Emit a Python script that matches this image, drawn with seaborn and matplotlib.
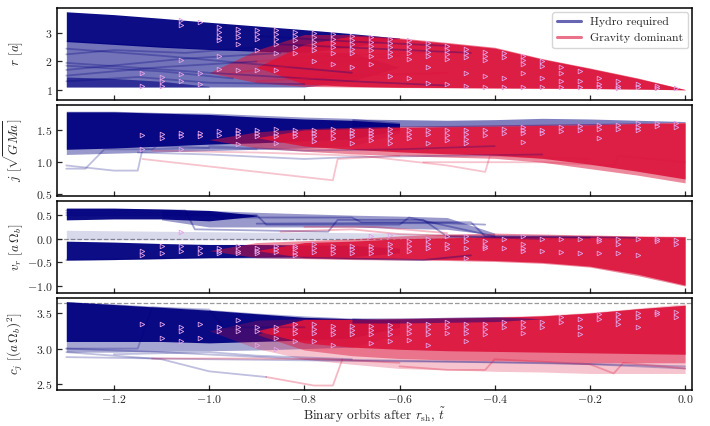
import numpy as np
import pandas as pd
import matplotlib
matplotlib.use("Agg")
import matplotlib.pyplot as plt
from matplotlib.lines import Line2D
import seaborn as sns

nan = np.nan

# ---- data ----
# time nodes for the envelopes of the dense bundles of tracks
T = [-1.3, -1.2, -1.1, -1.0, -0.9, -0.8, -0.7, -0.6, -0.5, -0.4, -0.3, -0.2, -0.1, 0.0]

# panel 1: r [a]
r_blue_core_lo = [2.70, 2.60, 2.50, 2.42, 2.36, 2.32, 2.50, 2.80, nan, nan, nan, nan, nan, nan]
r_blue_core_hi = [3.75, 3.65, 3.52, 3.38, 3.25, 3.12, 2.98, 2.82, nan, nan, nan, nan, nan, nan]
r_blue_wide_lo = [1.10, 1.10, 1.10, 1.10, 1.10, 1.10, 1.30, 1.80, nan, nan, nan, nan, nan, nan]
r_blue_wide_hi = [2.75, 2.65, 2.55, 2.45, 2.40, 2.35, 2.30, 1.80, nan, nan, nan, nan, nan, nan]
r_blue_low_lo = [1.10, 1.10, 1.10, 1.10, nan, nan, nan, nan, nan, nan, nan, nan, nan, nan]
r_blue_low_hi = [1.45, 1.40, 1.30, 1.12, nan, nan, nan, nan, nan, nan, nan, nan, nan, nan]
r_red_wide_lo = [nan, nan, nan, 1.60, 1.25, 1.12, 1.10, 1.08, 1.07, 1.06, 1.05, 1.04, 1.02, 1.00]
r_red_wide_hi = [nan, nan, nan, 1.60, 2.40, 2.95, 2.95, 2.83, 2.67, 2.50, 2.10, 1.77, 1.42, 1.01]
r_red_core_lo = [nan, nan, nan, nan, 1.80, 1.20, 1.12, 1.09, 1.08, 1.07, 1.06, 1.05, 1.03, 1.00]
r_red_core_hi = [nan, nan, nan, nan, 1.80, 2.60, 2.90, 2.80, 2.64, 2.47, 2.08, 1.75, 1.40, 1.01]

# panel 2: j [sqrt(GMa)]
j_blue_core_lo = [1.20, 1.22, 1.25, 1.28, 1.30, 1.33, 1.36, 1.50, nan, nan, nan, nan, nan, nan]
j_blue_core_hi = [1.78, 1.78, 1.76, 1.74, 1.70, 1.67, 1.65, 1.60, nan, nan, nan, nan, nan, nan]
j_blue_wide_lo = [1.12, 1.14, 1.16, 1.18, 1.20, 1.22, 1.25, 1.45, nan, nan, nan, nan, nan, nan]
j_blue_wide_hi = [1.79, 1.79, 1.77, 1.76, 1.73, 1.70, 1.68, 1.62, nan, nan, nan, nan, nan, nan]
j_blue_top_lo = [nan, nan, nan, nan, nan, nan, 1.56, 1.55, 1.55, 1.56, 1.57, 1.58, 1.60, 1.62]
j_blue_top_hi = [nan, nan, nan, nan, nan, nan, 1.67, 1.66, 1.65, 1.66, 1.68, 1.67, 1.65, 1.63]
j_red_wide_lo = [nan, nan, nan, 1.35, 1.22, 1.17, 1.13, 1.10, 1.08, 1.06, 1.00, 0.90, 0.80, 0.68]
j_red_wide_hi = [nan, nan, nan, 1.35, 1.47, 1.52, 1.54, 1.56, 1.57, 1.58, 1.59, 1.60, 1.61, 1.62]
j_red_core_lo = [nan, nan, nan, nan, 1.38, 1.25, 1.20, 1.16, 1.13, 1.11, 1.06, 0.97, 0.86, 0.74]
j_red_core_hi = [nan, nan, nan, nan, 1.38, 1.50, 1.52, 1.54, 1.55, 1.56, 1.57, 1.58, 1.60, 1.61]

# panel 3: v_r [a Omega_b]
v_blue_up_lo = [0.40, 0.42, 0.42, 0.38, 0.48, nan, nan, nan, nan, nan, nan, nan, nan, nan]
v_blue_up_hi = [0.65, 0.65, 0.63, 0.60, 0.50, nan, nan, nan, nan, nan, nan, nan, nan, nan]
v_blue_upw_lo = [nan, nan, 0.40, 0.25, 0.25, 0.25, 0.25, 0.22, 0.20, 0.08, nan, nan, nan, nan]
v_blue_upw_hi = [nan, nan, 0.60, 0.60, 0.56, 0.53, 0.50, 0.48, 0.45, 0.12, nan, nan, nan, nan]
v_blue_mid_lo = [-0.02, -0.02, -0.02, -0.02, -0.02, -0.02, -0.01, 0.00, 0.00, 0.02, 0.04, nan, nan, nan]
v_blue_mid_hi = [0.18, 0.17, 0.16, 0.15, 0.14, 0.14, 0.13, 0.12, 0.10, 0.08, 0.04, nan, nan, nan]
v_blue_core_lo = [-0.45, -0.44, -0.42, -0.40, -0.39, -0.38, -0.38, -0.30, nan, nan, nan, nan, nan, nan]
v_blue_core_hi = [-0.05, -0.07, -0.10, -0.12, -0.12, -0.13, -0.14, -0.20, nan, nan, nan, nan, nan, nan]
v_red_wide_lo = [nan, nan, nan, -0.25, -0.40, -0.42, -0.44, -0.45, -0.46, -0.48, -0.52, -0.60, -0.78, -1.00]
v_red_wide_hi = [nan, nan, nan, -0.25, -0.08, -0.04, 0.00, 0.06, 0.10, 0.12, 0.10, 0.08, 0.06, 0.05]
v_red_core_lo = [nan, nan, nan, nan, -0.25, -0.40, -0.42, -0.43, -0.44, -0.46, -0.50, -0.58, -0.75, -0.98]
v_red_core_hi = [nan, nan, nan, nan, -0.25, -0.08, -0.05, 0.00, 0.02, 0.05, 0.06, 0.06, 0.05, 0.04]

# panel 4: c_j [(a Omega_b)^2]
c_blue_core_lo = [3.10, 3.10, 3.10, 3.08, 3.10, 3.12, 3.15, 3.30, nan, nan, nan, nan, nan, nan]
c_blue_core_hi = [3.66, 3.62, 3.58, 3.54, 3.49, 3.44, 3.42, 3.40, nan, nan, nan, nan, nan, nan]
c_blue_wide_lo = [2.95, 2.95, 2.96, 2.97, 2.98, 3.00, 3.02, 3.20, nan, nan, nan, nan, nan, nan]
c_blue_wide_hi = [3.66, 3.63, 3.59, 3.55, 3.50, 3.46, 3.43, 3.40, nan, nan, nan, nan, nan, nan]
c_blue_top_lo = [nan, nan, nan, nan, nan, nan, 3.36, 3.36, 3.37, 3.38, 3.42, nan, nan, nan]
c_blue_top_hi = [nan, nan, nan, nan, nan, nan, 3.43, 3.43, 3.44, 3.45, 3.42, nan, nan, nan]
c_red_wide_lo = [nan, nan, nan, 3.25, 3.00, 2.85, 2.78, 2.72, 2.70, 2.68, 2.67, 2.65, 2.65, 2.65]
c_red_wide_hi = [nan, nan, nan, 3.25, 3.40, 3.42, 3.42, 3.43, 3.44, 3.45, 3.47, 3.51, 3.57, 3.63]
c_red_mid_lo = [nan, nan, nan, nan, 3.20, 2.98, 2.90, 2.86, 2.84, 2.83, 2.82, 2.80, 2.80, 2.80]
c_red_mid_hi = [nan, nan, nan, nan, 3.20, 3.41, 3.41, 3.42, 3.43, 3.44, 3.46, 3.50, 3.56, 3.61]
c_red_core_lo = [nan, nan, nan, nan, 3.25, 3.08, 3.02, 2.99, 2.97, 2.96, 2.95, 2.94, 2.93, 2.92]
c_red_core_hi = [nan, nan, nan, nan, 3.25, 3.41, 3.41, 3.42, 3.43, 3.44, 3.46, 3.50, 3.56, 3.61]

# single stray tracks: (t values, y values)
r_blue_tracks = [
    ([-1.3, -1.1, -0.9, -0.7], [2.45, 2.2, 1.9, 1.6]),
    ([-1.3, -1.05, -0.85], [1.7, 2.1, 2.3]),
    ([-1.3, -1.0, -0.7, -0.5], [1.95, 1.6, 1.3, 1.15]),
    ([-1.3, -1.1, -0.9], [1.5, 1.8, 2.0]),
    ([-1.3, -1.15, -1.0, -0.8], [1.3, 1.45, 1.25, 1.2]),
    ([-1.3, -1.2, -1.05, -0.9], [2.25, 2.4, 2.3, 2.5]),
    ([-1.3, -1.1, -0.95], [1.85, 1.65, 1.4]),
    ([-0.9, -0.7, -0.5], [2.9, 2.7, 2.55]),
    ([-0.85, -0.65, -0.45], [2.6, 2.45, 2.3]),
]
r_red_tracks = [
    ([-0.95, -0.8, -0.6], [1.6, 1.9, 2.2]),
    ([-0.9, -0.7, -0.5], [1.3, 1.5, 1.6]),
    ([-0.9, -0.75, -0.55], [2.0, 2.2, 2.3]),
]
j_blue_tracks = [
    ([-1.3, -1.26, -1.22, -1.12, -1.11, -0.9], [0.9, 0.9, 1.2, 1.2, 1.25, 1.2]),
    ([-1.3, -1.2, -1.15, -1.14, -1.0], [0.95, 0.87, 0.87, 1.2, 1.22]),
    ([-1.15, -1.0, -0.8, -0.7, -0.5, -0.3], [1.15, 1.12, 1.05, 1.08, 1.1, 1.12]),
    ([-1.0, -0.8, -0.6, -0.4], [1.25, 1.18, 1.2, 1.25]),
]
j_red_tracks = [
    ([-1.14, -0.74, -0.73, -0.6], [1.05, 0.72, 1.05, 1.1]),
    ([-1.12, -0.9, -0.68, -0.5, -0.42, -0.41, -0.2], [1.18, 1.15, 1.1, 0.95, 0.85, 1.1, 1.05]),
    ([-0.55, -0.3, -0.15, -0.14, 0.0], [1.0, 1.0, 0.95, 1.1, 1.0]),
]
v_blue_tracks = [
    ([-1.3, -1.0, -0.98, -0.7, -0.68, -0.45, -0.42, -0.2], [0.55, 0.55, 0.45, 0.45, 0.35, 0.35, 0.05, 0.02]),
    ([-1.3, -1.05, -1.03, -0.75, -0.73, -0.55, -0.5, -0.3], [0.6, 0.6, 0.2, 0.15, 0.4, 0.4, 0.05, 0.0]),
    ([-1.3, -0.9, -0.88, -0.6, -0.58, -0.4], [0.5, 0.5, 0.3, 0.3, 0.45, 0.05]),
    ([-0.9, -0.7, -0.5, -0.42], [0.32, 0.33, 0.33, 0.3]),
    ([-1.3, -1.0, -0.8, -0.55, -0.45], [-0.45, -0.4, -0.4, -0.45, -0.35]),
    ([-0.5, -0.3, -0.1], [0.05, 0.05, 0.02]),
]
v_red_tracks = [
    ([-0.85, -0.7, -0.6, -0.45], [0.15, 0.2, 0.1, 0.05]),
    ([-0.8, -0.65, -0.5], [0.25, 0.25, 0.12]),
]
c_blue_tracks = [
    ([-1.3, -1.1, -1.0, -0.88], [2.95, 2.85, 2.68, 2.6]),
    ([-1.3, -1.0, -0.6, -0.3, 0.0], [2.88, 2.85, 2.82, 2.8, 2.75]),
    ([-1.3, -1.1, -0.8, -0.5, -0.2, 0.0], [3.0, 2.95, 2.85, 2.82, 2.78, 2.72]),
    ([-1.3, -1.15, -1.12, -1.0, -0.97, -0.8], [3.0, 3.0, 3.58, 3.55, 3.3, 3.3]),
    ([-1.2, -1.0, -0.9, -0.7], [2.92, 2.95, 2.9, 2.85]),
]
c_red_tracks = [
    ([-0.88, -0.78, -0.74, -0.72], [2.6, 2.48, 2.48, 2.85]),
    ([-1.12, -0.9, -0.75, -0.6], [2.86, 2.86, 2.85, 2.8]),
    ([-0.6, -0.5, -0.42, -0.4, -0.2, -0.15, -0.13, 0.0], [2.75, 2.7, 2.7, 2.85, 2.78, 2.65, 2.8, 2.72]),
]

# times where tracks switch from hydro to gravity (triangle markers)
t_switch = [-1.14, -1.10, -1.06, -1.02, -0.98, -0.94, -0.90, -0.86, -0.82, -0.78,
            -0.74, -0.70, -0.66, -0.62, -0.58, -0.54, -0.50, -0.46, -0.42, -0.38,
            -0.34, -0.30, -0.26, -0.22, -0.18, -0.14, -0.10, -0.06, -0.02]
r_switch = [[1.12, 1.6], [1.3, 1.45, 1.12], [3.45, 3.3, 2.05, 1.55, 1.3], [3.4, 1.6, 1.2],
            [3.2, 3.05, 2.85, 2.75, 2.2, 1.75], [3.15, 3.0, 2.85, 2.6, 1.7], [3.1, 2.95, 2.8, 2.4, 1.7],
            [3.1, 2.95, 2.8, 2.6, 2.3, 1.7], [3.05, 2.9, 2.75, 2.5, 2.3], [3.0, 2.85, 2.7, 2.55, 2.4, 2.0],
            [2.95, 2.8, 2.65, 2.5, 2.3, 1.9], [2.9, 2.75, 2.6, 2.45, 2.3, 1.8], [2.85, 2.7, 2.55, 2.4, 2.2, 1.9],
            [2.8, 2.65, 2.5, 2.35, 2.2, 1.5], [2.75, 2.6, 2.45, 2.3, 2.1, 1.4], [2.65, 2.5, 2.35, 2.2, 1.8, 1.25],
            [2.55, 2.4, 2.25, 2.1, 1.2], [2.45, 2.3, 2.15, 1.6, 1.15], [2.35, 2.2, 2.05, 1.5, 1.1],
            [2.3, 2.15, 1.4, 1.1], [2.2, 2.05, 1.9, 1.6, 1.1], [2.0, 1.85, 1.4, 1.1], [1.8, 1.6, 1.3, 1.1],
            [1.65, 1.3, 1.1], [1.4, 1.2, 1.1], [1.3, 1.15, 1.08], [1.2, 1.1], [1.12, 1.08], [1.05]]
j_switch = [[1.42, 1.2], [1.43, 1.38], [1.45, 1.4, 1.2], [1.45, 1.4], [1.48, 1.42],
            [1.5, 1.45, 1.4, 1.28], [1.5, 1.45, 1.4], [1.52, 1.46, 1.4, 1.3], [1.5, 1.45, 1.4],
            [1.5, 1.45, 1.4, 1.33], [1.52, 1.45, 1.38], [1.5, 1.45, 1.4, 1.3], [1.5, 1.45, 1.4, 1.35],
            [1.52, 1.45, 1.38, 1.3], [1.5, 1.44, 1.38], [1.5, 1.44, 1.3], [1.5, 1.42, 1.35],
            [1.5, 1.44, 1.36, 1.3], [1.5, 1.42], [1.52, 1.46], [1.55, 1.5, 1.45, 1.32], [1.5, 1.46],
            [1.55, 1.48], [1.56, 1.5], [1.57, 1.52, 1.38], [1.58, 1.52], [1.6, 1.55, 1.5],
            [1.6, 1.56], [1.6, 1.55]]
v_switch = [[-0.25, -0.35], [-0.15, -0.3], [0.15, -0.15, -0.25], [-0.2, -0.3], [-0.2, -0.25, -0.3],
            [-0.15, -0.25, -0.3], [-0.2, -0.25, -0.3], [-0.15, -0.22, -0.28], [-0.15, -0.2, -0.28, -0.35],
            [-0.1, -0.2, -0.28], [-0.15, -0.22, -0.3], [-0.15, -0.22, -0.3], [0.05, -0.15, -0.22, -0.3],
            [0.08, -0.1, -0.2, -0.3], [-0.05, -0.15, -0.25], [0.0, -0.1, -0.2], [0.05, -0.1, -0.2],
            [0.05, -0.05, -0.2, -0.4], [-0.05, -0.15, -0.2], [0.0, -0.2], [0.05, -0.1, -0.2, -0.25],
            [0.0, -0.25], [0.0, -0.28], [0.0, -0.3], [0.0, -0.05, -0.3], [0.0, -0.1, -0.3],
            [0.0, -0.35], [0.0, -0.05], [-0.02, -0.1]]
c_switch = [[3.35], [3.35, 3.15], [3.3, 3.25, 3.1], [3.35, 3.15], [3.3, 3.25], [3.4, 3.3, 3.25],
            [3.3, 3.25, 3.05], [3.3, 3.25, 3.15, 3.0], [3.35, 3.28, 3.22, 3.1], [3.35, 3.28, 3.22, 3.1],
            [3.32, 3.26, 3.2, 3.05], [3.32, 3.26, 3.2], [3.32, 3.26, 3.2, 3.08], [3.33, 3.27, 3.2, 3.1],
            [3.35, 3.28, 3.22, 3.12], [3.35, 3.28, 3.2, 3.05], [3.38, 3.3, 3.22], [3.35, 3.28, 3.22, 3.1],
            [3.35, 3.28, 3.2], [3.38, 3.3], [3.38, 3.3, 3.22], [3.38, 3.3], [3.45, 3.38],
            [3.42, 3.3, 3.2], [3.48, 3.42], [3.48, 3.42, 3.35], [3.5, 3.45, 3.3], [3.52, 3.48],
            [3.52, 3.45]]

ylabels = [r"$r$ [$a$]", r"$j$ [$\sqrt{GMa}$]", r"$v_r$ [$a\,\Omega_b$]", r"$c_j$ [$(a\,\Omega_b)^2$]"]
ylims = [(0.65, 3.88), (0.47, 1.89), (-1.15, 0.79), (2.42, 3.71)]
yticks = [[1, 2, 3], [0.5, 1.0, 1.5], [-1.0, -0.5, 0.0, 0.5], [2.5, 3.0, 3.5]]
xticks = [-1.2, -1.0, -0.8, -0.6, -0.4, -0.2, 0.0]

BLUE = "#000080"
RED = "#dc143c"
MARK = "#e2a2e6"


def band(ax, lo, hi, color, alpha):
    lo = np.array(lo, dtype=float)
    hi = np.array(hi, dtype=float)
    ok = ~np.isnan(lo)
    ax.fill_between(np.array(T), lo, hi, where=ok, color=color, alpha=alpha, lw=0)


def tracks(ax, trs, color, alpha=0.25):
    for t, y in trs:
        sns.lineplot(x=t, y=y, ax=ax, color=color, alpha=alpha, lw=1.3,
                     sort=False, estimator=None)


def switches(ax, cols):
    df = pd.DataFrame([(t, y) for t, ys in zip(t_switch, cols) for y in ys], columns=["t", "y"])
    ax.plot(df["t"], df["y"], ls="none", marker=">", ms=3.3, mfc="none",
            mec=MARK, mew=0.6, zorder=5)


sns.set_theme(style="ticks")
plt.rcParams.update({
    "font.family": "serif",
    "font.serif": ["cmr10", "DejaVu Serif"],
    "mathtext.fontset": "cm",
    "axes.formatter.use_mathtext": True,
    "axes.unicode_minus": True,
    "font.size": 9,
    "axes.labelsize": 9.5,
    "legend.fontsize": 8.5,
    "axes.linewidth": 1.1,
    "axes.edgecolor": "black",
    "xtick.direction": "in",
    "ytick.direction": "in",
    "xtick.major.size": 3.5,
    "ytick.major.size": 3.5,
    "xtick.major.pad": 2.5,
    "ytick.major.pad": 3,
    "xtick.labelsize": 8.5,
    "ytick.labelsize": 8.5,
})

fig, axes = plt.subplots(4, 1, figsize=(7.1, 4.26), dpi=100, sharex=True)
fig.subplots_adjust(left=0.08, right=0.975, top=0.981, bottom=0.085, hspace=0.055)

# panel 1
ax = axes[0]
band(ax, r_blue_wide_lo, r_blue_wide_hi, BLUE, 0.55)
band(ax, r_blue_core_lo, r_blue_core_hi, BLUE, 0.95)
band(ax, r_blue_low_lo, r_blue_low_hi, BLUE, 0.6)
tracks(ax, r_blue_tracks, BLUE, 0.3)
band(ax, r_red_wide_lo, r_red_wide_hi, RED, 0.55)
band(ax, r_red_core_lo, r_red_core_hi, RED, 0.9)
tracks(ax, r_red_tracks, RED, 0.35)
switches(ax, r_switch)

# panel 2
ax = axes[1]
band(ax, j_blue_wide_lo, j_blue_wide_hi, BLUE, 0.4)
band(ax, j_blue_core_lo, j_blue_core_hi, BLUE, 0.95)
tracks(ax, j_blue_tracks, BLUE, 0.25)
band(ax, j_red_wide_lo, j_red_wide_hi, RED, 0.5)
band(ax, j_red_core_lo, j_red_core_hi, RED, 0.9)
band(ax, j_blue_top_lo, j_blue_top_hi, BLUE, 0.5)
tracks(ax, j_red_tracks, RED, 0.25)
switches(ax, j_switch)

# panel 3
ax = axes[2]
ax.axhline(0.0, color="0.6", ls="--", lw=0.9, zorder=0)
band(ax, v_blue_mid_lo, v_blue_mid_hi, BLUE, 0.15)
band(ax, v_blue_upw_lo, v_blue_upw_hi, BLUE, 0.4)
band(ax, v_blue_up_lo, v_blue_up_hi, BLUE, 0.95)
band(ax, v_blue_core_lo, v_blue_core_hi, BLUE, 0.95)
tracks(ax, v_blue_tracks, BLUE, 0.35)
band(ax, v_red_wide_lo, v_red_wide_hi, RED, 0.5)
band(ax, v_red_core_lo, v_red_core_hi, RED, 0.9)
tracks(ax, v_red_tracks, RED, 0.3)
switches(ax, v_switch)

# panel 4
ax = axes[3]
ax.axhline(3.64, color="0.6", ls="--", lw=0.9, zorder=0)
band(ax, c_blue_wide_lo, c_blue_wide_hi, BLUE, 0.35)
band(ax, c_blue_core_lo, c_blue_core_hi, BLUE, 0.95)
tracks(ax, c_blue_tracks, BLUE, 0.25)
band(ax, c_red_wide_lo, c_red_wide_hi, RED, 0.25)
band(ax, c_red_mid_lo, c_red_mid_hi, RED, 0.45)
band(ax, c_red_core_lo, c_red_core_hi, RED, 0.9)
band(ax, c_blue_top_lo, c_blue_top_hi, BLUE, 0.45)
tracks(ax, c_red_tracks, RED, 0.3)
switches(ax, c_switch)

for ax, lab, yl, yt in zip(axes, ylabels, ylims, yticks):
    ax.set_ylim(*yl)
    ax.set_yticks(yt)
    ax.set_ylabel(lab, labelpad=1)
    ax.set_xlim(-1.32, 0.015)
    ax.set_xticks(xticks)
    ax.tick_params(width=0.9)
axes[3].set_xlabel(r"Binary orbits after $r_{\rm sh}$, $\tilde{t}$", labelpad=0)
fig.align_ylabels(axes)

handles = [Line2D([], [], color=BLUE, lw=2.2, alpha=0.6),
           Line2D([], [], color=RED, lw=2.2, alpha=0.6)]
axes[0].legend(handles, ["Hydro required", "Gravity dominant"], loc="upper right",
               frameon=True, fancybox=True, framealpha=0.8, edgecolor="0.8",
               handlelength=2.0, borderpad=0.4, borderaxespad=0.35)

fig.savefig("out.png", dpi=100)
